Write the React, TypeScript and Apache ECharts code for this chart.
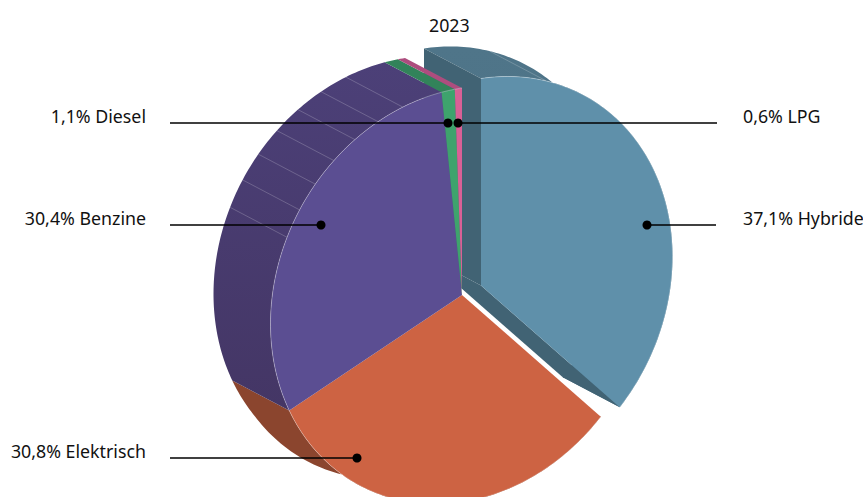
import React, { useEffect, useRef } from "react";
import * as echarts from "echarts";

const categories = ["Hybride", "Elektrisch", "Benzine", "Diesel", "LPG"];
const shares = [37.1, 30.8, 30.4, 1.1, 0.6];
const explodeX = [19, 0, 0, 0, 0];
const explodeY = [-9.5, 0, 0, 0, 0];
const titleText = "2023";

const topColors = ["#5f90aa", "#cd6343", "#5b4e92", "#3ea36d", "#d96096"];
const wallTop = ["#4f7589", "#8b452e", "#4c4078", "#32835a", "#ad4d7e"];
const wallBottom = ["#4a6f83", "#8b452e", "#443665", "#32835a", "#ad4d7e"];
const radialWall = "#416374";

// facet seams seen on the outer walls (degrees from the top, clockwise)
const facetAngles = [20, -66, -58, -50, -42, -34, -26, -18];

// leader anchors, drawn in the same order as the categories
const anchorX = [647, 357, 321, 448, 458];
const anchorY = [225, 458, 225, 123, 123];
const lineEndX = [716, 170, 170, 170, 717];
const labelX = [743, 146, 146, 146, 743];
const labelSide = ["left", "right", "right", "right", "left"];

const CENTER = [462, 295];
const AX = [191.5, -29];
const AY = [0, -207];
const DEPTH = [-57, -30];
const FONT = "'Noto Sans'";

const rad = (d: number) => (d * Math.PI) / 180;
const total = shares.reduce((a, b) => a + b, 0);

function sliceSpan(i: number) {
  const before = shares.slice(0, i).reduce((a, b) => a + b, 0);
  return [(before / total) * 360, ((before + shares[i]) / total) * 360];
}
function dir(deg: number) {
  const s = Math.sin(rad(deg));
  const c = Math.cos(rad(deg));
  return [s * AX[0] + c * AY[0], s * AX[1] + c * AY[1]];
}
function sliceCenter(i: number) {
  return [CENTER[0] + explodeX[i], CENTER[1] + explodeY[i]];
}
function arc(i: number, isBack = false) {
  const [a, b] = sliceSpan(i);
  const c = sliceCenter(i);
  const n = Math.max(2, Math.ceil(b - a));
  const pts: number[][] = [];
  for (let k = 0; k <= n; k++) {
    const d = dir(a + ((b - a) * k) / n);
    if (isBack) {
      // the far rim sags slightly lower near the bottom of the pie
      const sag = Math.max(0, d[1] - 150) * 0.08;
      pts.push([c[0] + d[0] + DEPTH[0], c[1] + d[1] + DEPTH[1] + sag]);
    } else {
      pts.push([c[0] + d[0], c[1] + d[1]]);
    }
  }
  return pts;
}

function wallItem(params: any, api: any) {
  const i = api.value(0);
  const [a, b] = sliceSpan(i);
  const c = sliceCenter(i);
  const front = arc(i);
  const back = arc(i, true);
  const children: any[] = [];
  children.push({
    type: "polygon",
    shape: { points: front.concat(back.slice().reverse()) },
    style: {
      fill: new echarts.graphic.LinearGradient(0, 0, 0, 1, [
        { offset: 0, color: wallTop[i] },
        { offset: 1, color: wallBottom[i] },
      ]),
    },
  });
  facetAngles
    .filter((f) => {
      const x = f < 0 ? f + 360 : f;
      return x > a && x < b;
    })
    .forEach((f) => {
      const d = dir(f);
      const p = [c[0] + d[0], c[1] + d[1]];
      children.push({
        type: "line",
        shape: { x1: p[0], y1: p[1], x2: p[0] + DEPTH[0], y2: p[1] + DEPTH[1] },
        style: { stroke: "rgba(255,255,255,0.2)", lineWidth: 1 },
      });
    });
  if (explodeX[i] !== 0) {
    [front[0], front[front.length - 1]].forEach((p) => {
      children.push({
        type: "polygon",
        shape: {
          points: [c, p, [p[0] + DEPTH[0], p[1] + DEPTH[1]], [c[0] + DEPTH[0], c[1] + DEPTH[1]]],
        },
        style: { fill: radialWall },
      });
    });
  }
  return { type: "group", children };
}

function topItem(params: any, api: any) {
  const i = api.value(0);
  const c = sliceCenter(i);
  const pts = arc(i);
  return {
    type: "group",
    children: [
      { type: "polygon", shape: { points: [c].concat(pts) }, style: { fill: topColors[i] } },
      {
        type: "polyline",
        shape: { points: pts },
        style: { stroke: "rgba(255,255,255,0.3)", fill: null, lineWidth: 1 },
      },
    ],
  };
}

function labelItem(params: any, api: any) {
  const i = api.value(0);
  const text = `${shares[i].toFixed(1).replace(".", ",")}% ${categories[i]}`;
  return {
    type: "group",
    children: [
      {
        type: "line",
        shape: { x1: lineEndX[i], y1: anchorY[i], x2: anchorX[i], y2: anchorY[i] },
        style: { stroke: "#000", lineWidth: 1.5 },
      },
      { type: "circle", shape: { cx: anchorX[i], cy: anchorY[i], r: 4.5 }, style: { fill: "#000" } },
      {
        type: "text",
        x: labelX[i],
        y: anchorY[i] - 7,
        style: {
          text,
          fill: "#111",
          font: `17.8px ${FONT}`,
          align: labelSide[i],
          verticalAlign: "middle",
        },
      },
    ],
  };
}

export default function App() {
  const ref = useRef<HTMLDivElement>(null);
  useEffect(() => {
    document.body.style.margin = "0";
    const chart = echarts.init(ref.current!, null, { renderer: "svg" });
    const data = categories.map((name, i) => ({ name, value: [i, shares[i]] }));
    chart.setOption({
      animation: false,
      title: {
        text: titleText,
        left: 424,
        top: 11,
        textStyle: { fontFamily: "Noto Sans", fontSize: 17.8, fontWeight: "normal", color: "#111" },
      },
      series: [
        { type: "custom", coordinateSystem: "none", z: 1, silent: true, renderItem: wallItem, data, clip: false },
        { type: "custom", coordinateSystem: "none", z: 2, silent: true, renderItem: topItem, data, clip: false },
        { type: "custom", coordinateSystem: "none", z: 3, silent: true, renderItem: labelItem, data, clip: false },
      ],
    });
    return () => chart.dispose();
  }, []);
  return <div ref={ref} style={{ position: "absolute", left: 0, top: 0, width: 863, height: 497, overflow: "hidden" }} />;
}
